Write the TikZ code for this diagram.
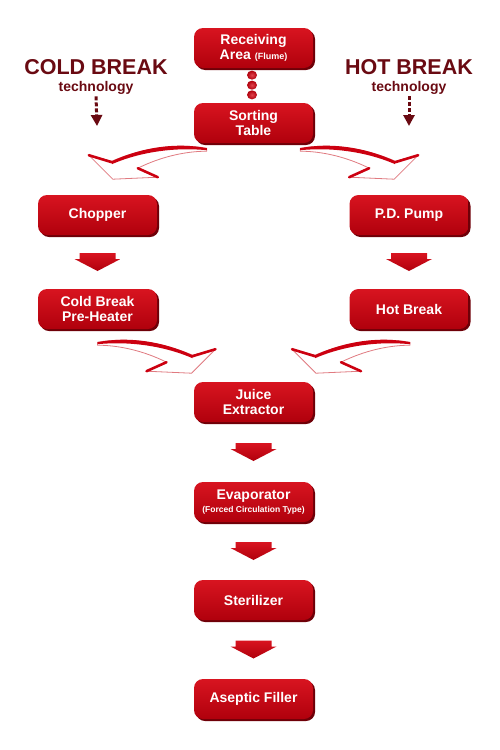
\documentclass[tikz,border=0pt]{standalone}
\usepackage{fontspec}
\setmainfont{Liberation Sans}
\usetikzlibrary{positioning,calc,arrows.meta,shadows}

\definecolor{boxtop}{HTML}{D81420}
\definecolor{boxbot}{HTML}{B0000C}
\definecolor{shadowred}{HTML}{6E0008}
\definecolor{titlered}{HTML}{6A0A12}
\definecolor{arrowred}{HTML}{CC0010}
\definecolor{rimred}{HTML}{E07A80}

\tikzset{
  stage/.style={rectangle, rounded corners=9pt, minimum width=119pt, minimum height=40pt,
    inner sep=0pt, top color=boxtop, bottom color=boxbot, text=white, align=center,
    font=\fontsize{14}{15.5}\selectfont\bfseries,
    drop shadow={fill=shadowred, opacity=1, shadow xshift=2pt, shadow yshift=-2pt}},
  title/.style={text=titlered, inner sep=0pt, font=\fontsize{21.5}{21.5}\selectfont\bfseries},
  subtitle/.style={text=titlered, inner sep=0pt, font=\fontsize{14}{14}\selectfont\bfseries},
  cue/.style={titlered, line width=3pt, dash pattern=on 4pt off 2pt,
    -{Triangle[width=11pt,length=11pt]}},
  % block arrow between two stages
  downarrow/.pic={
    \shade[top color=boxtop, bottom color=boxbot] (-18,-9) -- (18,-9) -- (18,-3) -- (23,-3)
      -- (0,9) -- (-23,-3) -- (-18,-3) -- cycle;
  },
  % curved split/merge arrow, tail at the origin
  bendarrow/.pic={
    \filldraw[fill=white, draw=rimred, line width=0.8pt, line join=round]
      (0,0) .. controls (-30,-5) and (-65,0) .. (-95,13) -- (-118,7) -- (-94,31)
      -- (-49,29) -- (-69,20) .. controls (-45,8) and (-20,3) .. (0,3) -- cycle;
    \fill[arrowred]
      (0,0) .. controls (-30,-6) and (-65,-1) .. (-95,13)
      -- (-95,16) .. controls (-65,3) and (-30,-1) .. (0,2) -- cycle;
    \draw[arrowred, line width=2.6pt, line cap=round] (-95,14) -- (-118,7);
    \draw[arrowred, line width=2.6pt, line cap=round] (-49,29) -- (-69,20);
  }
}

\begin{document}
\begin{tikzpicture}[x=1pt, y=-1pt]
    \useasboundingbox (0,0) rectangle (500,750);

    % main line
    \node[stage] (recv) at (253.5,48) {Receiving\\Area {\fontsize{9}{9}\selectfont (Flume)}};
    \node[stage] (sort) at (253.5,123) {Sorting\\Table};
    \node[stage] (juice) at (253.5,402) {Juice\\Extractor};
    \node[stage] (evap) at (253.5,502) {Evaporator\\[-3pt]{\fontsize{8.5}{9}\selectfont (Forced Circulation Type)}};
    \node[stage] (ster) at (253.5,600) {Sterilizer};
    \node[stage] (asep) at (253.5,699) {Aseptic Filler};

    % two branches
    \node[stage] (chop) at (97.5,215) {Chopper};
    \node[stage] (pre) at (97.5,309) {Cold Break\\Pre-Heater};
    \node[stage] (pump) at (409,215) {P.D. Pump};
    \node[stage] (hot) at (409,309) {Hot Break};

    % headings
    \node[title] (cold) at (96,67) {COLD BREAK};
    \node[subtitle, below=6pt of cold] (coldsub) {technology};
    \node[title] (hotb) at (409,67) {HOT BREAK};
    \node[subtitle, below=6pt of hotb] (hotsub) {technology};

    \coordinate (coldend) at (97,126);
    \coordinate (hotend) at (409,126);
    \draw[cue] ([yshift=-2pt]coldsub.south) -- (coldend);
    \draw[cue] ([yshift=-2pt]hotsub.south) -- (hotend);

    % beads between receiving and sorting
    \foreach \f in {0.2,0.49,0.77}
        \shade[inner color=boxtop!80!white, outer color=boxbot] ($(recv.south)!\f!(sort.north)+(-1.5,0)$) ellipse (5 and 4.5);

    % split and merge
    \pic at ($(sort.south west)+(13,5)$) {bendarrow};
    \pic[xscale=-1] at ($(sort.south east)+(-13,5)$) {bendarrow};
    \pic[xscale=-1] at ($(pre.south)+(0,13)$) {bendarrow};
    \pic at ($(hot.south)+(1,13)$) {bendarrow};

    % straight steps
    \pic at ($(chop.south)!.5!(pre.north)$) {downarrow};
    \pic at ($(pump.south)!.5!(hot.north)$) {downarrow};
    \pic at ($(juice.south)!.5!(evap.north)$) {downarrow};
    \pic at ($(evap.south)!.5!(ster.north)$) {downarrow};
    \pic at ($(ster.south)!.5!(asep.north)$) {downarrow};
\end{tikzpicture}
\end{document}
